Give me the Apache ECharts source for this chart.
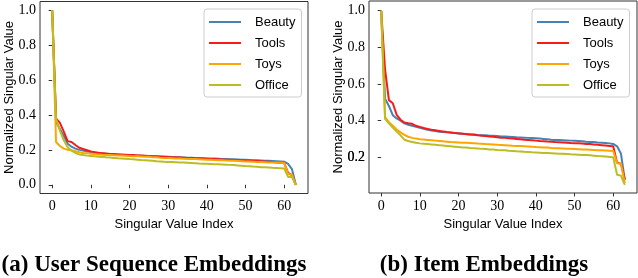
<!DOCTYPE html>
<html>
<head>
<meta charset="utf-8">
<script src="https://cdn.jsdelivr.net/npm/echarts@6/dist/echarts.min.js"></script>
<style>html,body{margin:0;padding:0;background:#fff}#c{width:638px;height:278px}</style>
</head>
<body>
<div id="c"></div>
<script>
const seriesNames = ['Beauty', 'Tools', 'Toys', 'Office'];
const seriesColors = ['#4682b4', '#f51b1b', '#ffa500', '#bcbd22'];
const xTicks = [0, 10, 20, 30, 40, 50, 60];
const yTicksLeft = [0, 0.2, 0.4, 0.6, 0.8, 1.0];
const yTicksRight = [0.2, 0.4, 0.6, 0.8, 1.0];
const captionA = '(a) User Sequence Embeddings';
const captionB = '(b) Item Embeddings';

// (a) User sequence embeddings, singular value index 0..63
const userBeauty = [1.0,0.36,0.32,0.28,0.235,0.218,0.207,0.200,0.196,0.191,0.187,0.184,0.181,0.179,0.177,0.175,0.174,0.173,0.171,0.170,0.169,0.168,0.167,0.166,0.165,0.164,0.163,0.162,0.161,0.160,0.160,0.159,0.158,0.157,0.156,0.155,0.155,0.154,0.153,0.152,0.151,0.150,0.150,0.149,0.148,0.147,0.146,0.146,0.145,0.144,0.143,0.142,0.141,0.140,0.139,0.138,0.137,0.136,0.135,0.134,0.132,0.120,0.090,0.0];
const userTools = [1.0,0.38,0.355,0.305,0.25,0.245,0.228,0.212,0.205,0.198,0.191,0.187,0.183,0.181,0.179,0.177,0.176,0.174,0.173,0.172,0.171,0.170,0.168,0.167,0.166,0.165,0.164,0.163,0.162,0.161,0.159,0.158,0.157,0.156,0.155,0.154,0.153,0.152,0.151,0.150,0.149,0.148,0.147,0.146,0.145,0.144,0.143,0.142,0.141,0.140,0.139,0.138,0.137,0.136,0.135,0.134,0.132,0.130,0.128,0.126,0.124,0.068,0.055,0.0];
const userToys = [1.0,0.245,0.222,0.207,0.201,0.198,0.192,0.186,0.182,0.180,0.178,0.176,0.174,0.172,0.171,0.170,0.169,0.168,0.167,0.166,0.165,0.164,0.163,0.162,0.161,0.160,0.158,0.157,0.155,0.154,0.153,0.152,0.151,0.150,0.149,0.148,0.148,0.147,0.146,0.145,0.144,0.143,0.142,0.141,0.140,0.139,0.138,0.137,0.136,0.135,0.134,0.133,0.132,0.131,0.130,0.129,0.128,0.127,0.127,0.126,0.125,0.062,0.058,0.0];
const userOffice = [1.0,0.38,0.31,0.255,0.215,0.195,0.182,0.174,0.170,0.167,0.165,0.163,0.161,0.159,0.157,0.156,0.154,0.152,0.151,0.149,0.147,0.146,0.144,0.142,0.141,0.139,0.137,0.135,0.134,0.132,0.131,0.130,0.129,0.128,0.127,0.126,0.125,0.124,0.122,0.121,0.120,0.119,0.118,0.117,0.116,0.115,0.114,0.113,0.111,0.109,0.107,0.106,0.104,0.103,0.101,0.100,0.099,0.097,0.096,0.095,0.093,0.045,0.044,0.0];

// (b) Item embeddings
const itemBeauty = [1.0,0.52,0.48,0.43,0.412,0.40,0.385,0.378,0.372,0.366,0.361,0.356,0.350,0.346,0.343,0.340,0.338,0.336,0.334,0.332,0.330,0.328,0.326,0.325,0.324,0.322,0.321,0.320,0.318,0.317,0.316,0.314,0.313,0.312,0.311,0.309,0.308,0.307,0.306,0.305,0.304,0.302,0.300,0.298,0.296,0.295,0.294,0.293,0.292,0.291,0.290,0.289,0.287,0.285,0.284,0.283,0.281,0.280,0.278,0.276,0.273,0.260,0.220,0.075];
const itemTools = [1.0,0.68,0.512,0.495,0.432,0.405,0.390,0.386,0.383,0.372,0.366,0.360,0.355,0.350,0.347,0.344,0.341,0.338,0.336,0.333,0.331,0.329,0.327,0.325,0.323,0.320,0.318,0.316,0.314,0.312,0.309,0.307,0.306,0.304,0.302,0.300,0.298,0.296,0.295,0.293,0.291,0.289,0.288,0.286,0.285,0.283,0.282,0.281,0.280,0.278,0.277,0.276,0.275,0.273,0.272,0.270,0.268,0.266,0.264,0.262,0.260,0.170,0.165,0.080];
const itemToys = [1.0,0.42,0.392,0.372,0.352,0.336,0.322,0.312,0.306,0.302,0.299,0.297,0.295,0.293,0.291,0.289,0.287,0.285,0.283,0.282,0.281,0.280,0.279,0.278,0.277,0.275,0.274,0.272,0.271,0.270,0.268,0.267,0.266,0.265,0.263,0.262,0.261,0.260,0.259,0.258,0.256,0.255,0.254,0.253,0.251,0.250,0.249,0.248,0.247,0.246,0.245,0.244,0.243,0.242,0.241,0.240,0.239,0.238,0.237,0.236,0.235,0.168,0.165,0.060];
const itemOffice = [1.0,0.41,0.385,0.362,0.340,0.320,0.296,0.289,0.284,0.279,0.276,0.274,0.272,0.270,0.268,0.266,0.264,0.262,0.260,0.258,0.256,0.254,0.253,0.251,0.250,0.248,0.246,0.245,0.243,0.242,0.240,0.239,0.238,0.236,0.235,0.233,0.232,0.230,0.229,0.227,0.226,0.225,0.224,0.223,0.222,0.221,0.220,0.219,0.218,0.216,0.215,0.214,0.213,0.212,0.211,0.209,0.207,0.206,0.204,0.202,0.200,0.105,0.100,0.050];

const userData = [userBeauty, userTools, userToys, userOffice];
const itemData = [itemBeauty, itemTools, itemToys, itemOffice];

const serif = 'Liberation Serif';
const sans = 'Liberation Sans';
const frame = '#333';
const rightMin = 0.0052, rightMax = 1.0529;

function xAxisCfg(gi) {
  return {
    type: 'value', gridIndex: gi, min: -3.15, max: 66.15,
    axisLine: {show: false}, splitLine: {show: false},
    axisTick: {show: true, length: 3.5, inside: false, customValues: xTicks, lineStyle: {color: frame, width: 1}},
    axisLabel: {customValues: xTicks, showMinLabel: true, showMaxLabel: true, hideOverlap: false, margin: 6, fontFamily: serif, fontSize: 14, color: '#000'},
    name: 'Singular Value Index', nameLocation: 'middle', nameGap: 20,
    nameTextStyle: {fontFamily: sans, fontSize: 13, color: '#000'}
  };
}
function yAxisCfg(gi, min, max, ticks) {
  return {
    type: 'value', gridIndex: gi, min: min, max: max,
    axisLine: {show: false}, splitLine: {show: false},
    axisTick: {show: true, length: 3.5, inside: false, customValues: ticks, lineStyle: {color: frame, width: 1}},
    axisLabel: {customValues: ticks, showMinLabel: true, showMaxLabel: true, hideOverlap: false, margin: 4, fontFamily: serif, fontSize: 14, color: '#000',
      formatter: v => Number(v).toFixed(1)},
    name: 'Normalized Singular Value', nameLocation: 'middle', nameGap: 24, nameMoveOverlap: false,
    nameTextStyle: {fontFamily: sans, fontSize: 13, color: '#000'}
  };
}
// helper axis on the right panel: carries the lowest tick label only
function yLabelAxis(gi, min, max, vals) {
  return {
    type: 'value', gridIndex: gi, min: min, max: max, position: 'left', offset: 0,
    axisLine: {show: false}, splitLine: {show: false}, axisTick: {show: false},
    axisLabel: {customValues: vals, showMinLabel: true, showMaxLabel: true, hideOverlap: false, margin: 4, fontFamily: serif, fontSize: 14, color: '#000',
      formatter: v => Number(v).toFixed(1)}
  };
}
function legendCfg(left) {
  return {
    left: left, top: 9, orient: 'vertical', icon: 'rect',
    padding: [6, 6, 5, 5], itemWidth: 32, itemHeight: 2, itemGap: 7,
    backgroundColor: 'rgba(255,255,255,0.8)', borderColor: '#cccccc', borderWidth: 1, borderRadius: 3,
    data: seriesNames,
    textStyle: {fontFamily: sans, fontSize: 13, lineHeight: 14, color: '#000', padding: [0, 0, 0, 9]}
  };
}

const series = [];
[userData, itemData].forEach((group, gi) => {
  group.forEach((arr, k) => {
    series.push({
      type: 'line', name: seriesNames[k], xAxisIndex: gi, yAxisIndex: gi,
      data: arr.map((v, i) => [i, v]),
      symbol: 'none', showSymbol: false, smooth: false, animation: false,
      lineStyle: {color: seriesColors[k], width: 2},
      itemStyle: {color: seriesColors[k]}
    });
  });
});

const chart = echarts.init(document.getElementById('c'), null, {renderer: 'canvas'});
chart.setOption({
  animation: false,
  grid: [
    {left: 40, top: 1.5, width: 268, height: 192, show: true, borderColor: frame, borderWidth: 1, backgroundColor: 'transparent'},
    {left: 369, top: 1, width: 268, height: 192, show: true, borderColor: frame, borderWidth: 1, backgroundColor: 'transparent'}
  ],
  xAxis: [xAxisCfg(0), xAxisCfg(1)],
  yAxis: [yAxisCfg(0, -0.05, 1.05, yTicksLeft), yAxisCfg(1, rightMin, rightMax, yTicksRight), yLabelAxis(1, rightMin, rightMax, [yTicksRight[0]])],
  legend: [legendCfg(204), legendCfg(532)],
  series: series,
  graphic: [
    {type: 'text', x: 154, y: 265, style: {text: captionA, font: 'bold 23px "Liberation Serif", serif', fill: '#000', textAlign: 'center', textVerticalAlign: 'middle'}},
    {type: 'text', x: 484, y: 265, style: {text: captionB, font: 'bold 23px "Liberation Serif", serif', fill: '#000', textAlign: 'center', textVerticalAlign: 'middle'}}
  ]
});
</script>
</body>
</html>
